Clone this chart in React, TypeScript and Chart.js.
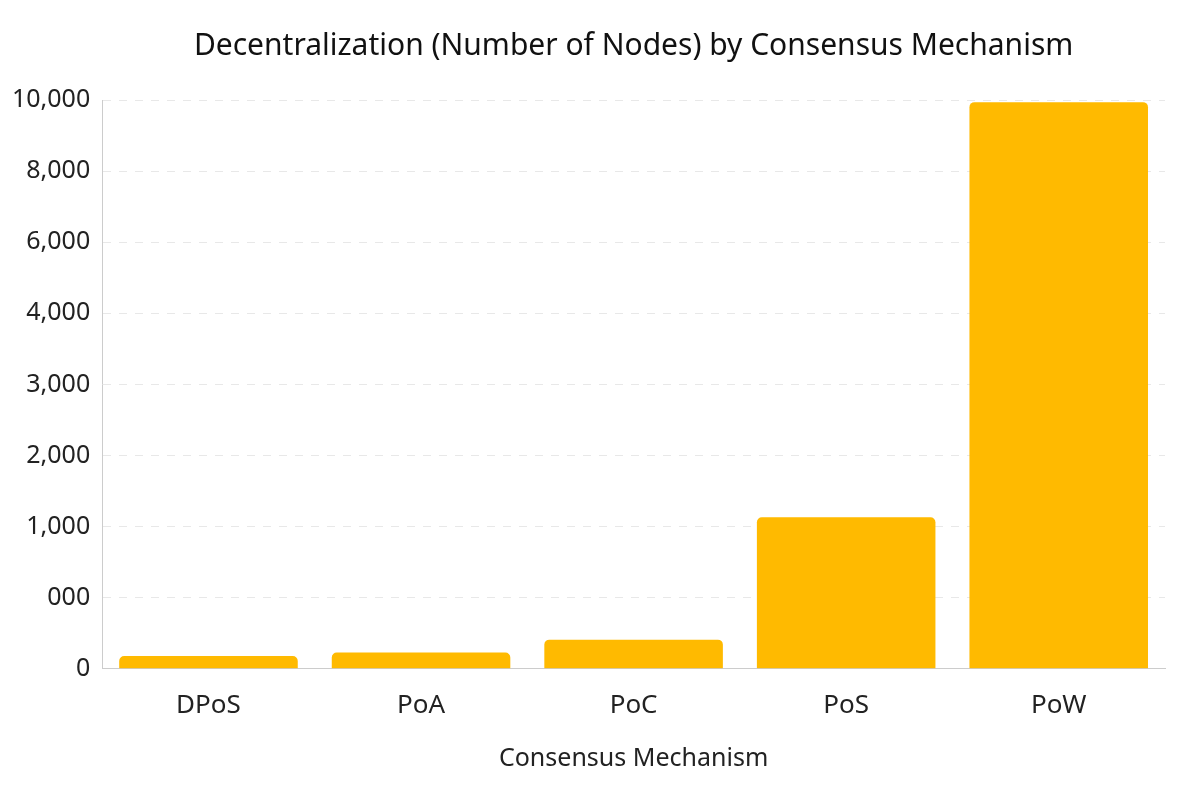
import React, { useEffect, useRef } from 'react';
import { Chart, registerables, LinearScale } from 'chart.js';

Chart.register(...registerables);

const mechanisms = ['DPoS', 'PoA', 'PoC', 'PoS', 'PoW'];
const nodeCounts = [90, 115, 205, 1130, 9940];
const tickValues = [0, 500, 1000, 2000, 3000, 4000, 6000, 8000, 10000];
const tickLabels = ['0', '000', '1,000', '2,000', '3,000', '4,000', '6,000', '8,000', '10,000'];

// y axis ticks are evenly spaced but not evenly valued, so map piece by piece
const toPos = (v: number) => {
  const last = tickValues.length - 1;
  if (v <= tickValues[0]) return 0;
  if (v >= tickValues[last]) return last;
  let i = 0;
  while (v > tickValues[i + 1]) i++;
  return i + (v - tickValues[i]) / (tickValues[i + 1] - tickValues[i]);
};

const fromPos = (p: number) => {
  const last = tickValues.length - 1;
  if (p <= 0) return tickValues[0];
  if (p >= last) return tickValues[last];
  const i = Math.floor(p);
  return tickValues[i] + (p - i) * (tickValues[i + 1] - tickValues[i]);
};

class PiecewiseScale extends LinearScale {
  static id = 'piecewise';
  static defaults = LinearScale.defaults;

  determineDataLimits() {
    this.min = tickValues[0];
    this.max = tickValues[tickValues.length - 1];
  }

  buildTicks() {
    return tickValues.map((value) => ({ value }));
  }

  getPixelForValue(value: number) {
    return this.getPixelForDecimal(toPos(value) / (tickValues.length - 1));
  }

  getValueForPixel(pixel: number) {
    return fromPos(this.getDecimalForPixel(pixel) * (tickValues.length - 1));
  }
}

Chart.register(PiecewiseScale);

const FONT = '"Noto Sans", "DejaVu Sans", sans-serif';

const NodesChart: React.FC = () => {
  const chartRef = useRef<HTMLCanvasElement>(null);

  useEffect(() => {
    if (!chartRef.current) return;
    document.body.style.margin = '0';

    const chart = new Chart(chartRef.current, {
      type: 'bar',
      data: {
        labels: mechanisms,
        datasets: [{
          label: 'Number of Nodes',
          data: nodeCounts,
          backgroundColor: '#FFBA00',
          borderRadius: 5,
          borderSkipped: 'bottom',
          barPercentage: 0.84,
          categoryPercentage: 1,
        }],
      },
      options: {
        responsive: true,
        maintainAspectRatio: false,
        animation: false,
        layout: { padding: { left: 0, right: 35, top: 10, bottom: 27 } },
        plugins: {
          legend: { display: false },
          tooltip: { enabled: false },
          title: {
            display: true,
            fullSize: false,
            text: 'Decentralization (Number of Nodes) by Consensus Mechanism',
            color: '#111',
            font: { family: FONT, size: 30, weight: 'normal' },
            padding: { top: 18, bottom: 36 },
          },
        },
        scales: {
          x: {
            grid: { display: false },
            border: { color: '#cccccc' },
            ticks: { color: '#222', font: { family: FONT, size: 26 }, padding: 13 },
            title: {
              display: true,
              text: 'Consensus Mechanism',
              color: '#222',
              font: { family: FONT, size: 25 },
              padding: { top: 10 },
            },
          },
          y: {
            type: 'piecewise' as any,
            grid: { color: '#e8e8e8', drawTicks: false },
            border: { color: '#cccccc', dash: [8, 8] },
            ticks: {
              color: '#222',
              font: { family: FONT, size: 25 },
              padding: 12,
              callback: (_v: any, i: number) => tickLabels[i],
            },
          },
        },
      },
    });

    return () => chart.destroy();
  }, []);

  return (
    <div style={{ width: 1200, height: 805, position: 'relative' }}>
      <canvas ref={chartRef} />
    </div>
  );
};

export default function App() {
  return <NodesChart />;
}
